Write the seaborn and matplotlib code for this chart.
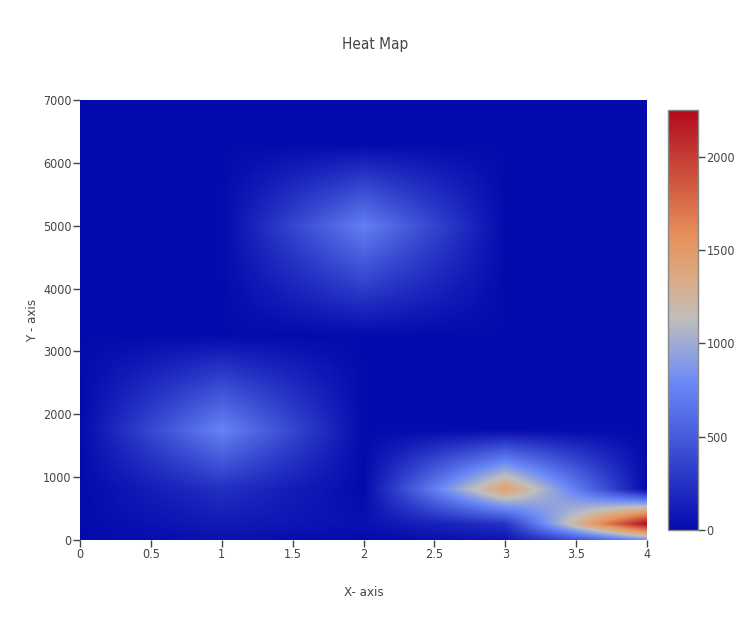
import numpy as np
import pandas as pd
import matplotlib.pyplot as plt
from matplotlib.colors import LinearSegmentedColormap
import seaborn as sns

sns.set_theme(style='white')
plt.rcParams['font.family'] = ['DejaVu Sans']
plt.rcParams['font.stretch'] = 'condensed'

# grid
x_vals = [0, 1, 2, 3, 4]
y_vals = [0, 250, 800, 1750, 3250, 5000, 6300, 7000]

row_0 = [0, 40, 0, 60, 850]
row_250 = [0, 100, 40, 250, 2250]
row_800 = [0, 230, 0, 1450, 0]
row_1750 = [0, 760, 0, 0, 0]
row_3250 = [0, 0, 0, 0, 0]
row_5000 = [0, 0, 730, 0, 0]
row_6300 = [0, 0, 0, 0, 0]
row_7000 = [0, 0, 0, 0, 0]

x_ticks = [0, 0.5, 1, 1.5, 2, 2.5, 3, 3.5, 4]
x_tick_labels = ['0', '0.5', '1', '1.5', '2', '2.5', '3', '3.5', '4']
y_ticks = [0, 1000, 2000, 3000, 4000, 5000, 6000, 7000]
cbar_ticks = [0, 500, 1000, 1500, 2000]

z = np.array([row_0, row_250, row_800, row_1750, row_3250, row_5000, row_6300, row_7000], dtype=float)

# plotly style colorscale
cmap = LinearSegmentedColormap.from_list('rdbu_plotly', [
    (0, (5/255, 10/255, 172/255)),
    (0.35, (106/255, 137/255, 247/255)),
    (0.5, (190/255, 190/255, 190/255)),
    (0.6, (220/255, 170/255, 132/255)),
    (0.7, (230/255, 145/255, 90/255)),
    (1, (178/255, 10/255, 28/255)),
], N=512)

# same job as zsmooth: bilinear fill between the grid values, one cell per pixel
nx, ny = 567, 440
px = np.linspace(0, 4, nx)
py = np.linspace(0, 7000, ny)
tmp = np.array([np.interp(py, y_vals, z[:, j]) for j in range(len(x_vals))])
smooth = np.array([np.interp(px, x_vals, tmp[:, i]) for i in range(ny)])
df = pd.DataFrame(smooth)

W, H = 750, 620
fig = plt.figure(figsize=(W/100, H/100), dpi=100)
ax = fig.add_axes([80/W, 1 - 540/H, 567/W, 440/H])
cax = fig.add_axes([668/W, 1 - 530/H, 30/W, 420/H])

sns.heatmap(df, ax=ax, cbar_ax=cax, cmap=cmap, vmin=0, vmax=2250,
            xticklabels=False, yticklabels=False, cbar_kws={'ticks': cbar_ticks})
ax.set_ylim(0, ny)
ax.set_xlim(0, nx)

text_col = '#444444'
ax.set_xticks([t / 4 * nx for t in x_ticks])
ax.set_xticklabels(x_tick_labels)
ax.set_yticks([t / 7000 * ny for t in y_ticks])
ax.set_yticklabels([str(t) for t in y_ticks], rotation=0)
ax.tick_params(axis='both', length=5, width=1, color=text_col, labelcolor=text_col,
               labelsize=9, pad=1, left=True, bottom=True)
ax.set_xlabel('X- axis', fontsize=9.5, color=text_col, va='center')
ax.xaxis.set_label_coords(0.5 , -(592 - 540) / 440)
ax.set_ylabel('Y - axis', fontsize=9.5, color=text_col, va='center')
ax.yaxis.set_label_coords((33 - 80) / 567, 0.5)

cax.tick_params(axis='y', length=5, width=1, color=text_col, labelcolor=text_col,
                labelsize=9, pad=1, right=True)
cbar = ax.collections[0].colorbar
cbar.outline.set_visible(True)
cbar.outline.set_edgecolor('#888888')
cbar.outline.set_linewidth(1)

fig.text(375/W, 1 - 44/H, 'Heat Map', ha='center', va='center', fontsize=11, color=text_col)

plt.savefig('out.png', dpi=100)
